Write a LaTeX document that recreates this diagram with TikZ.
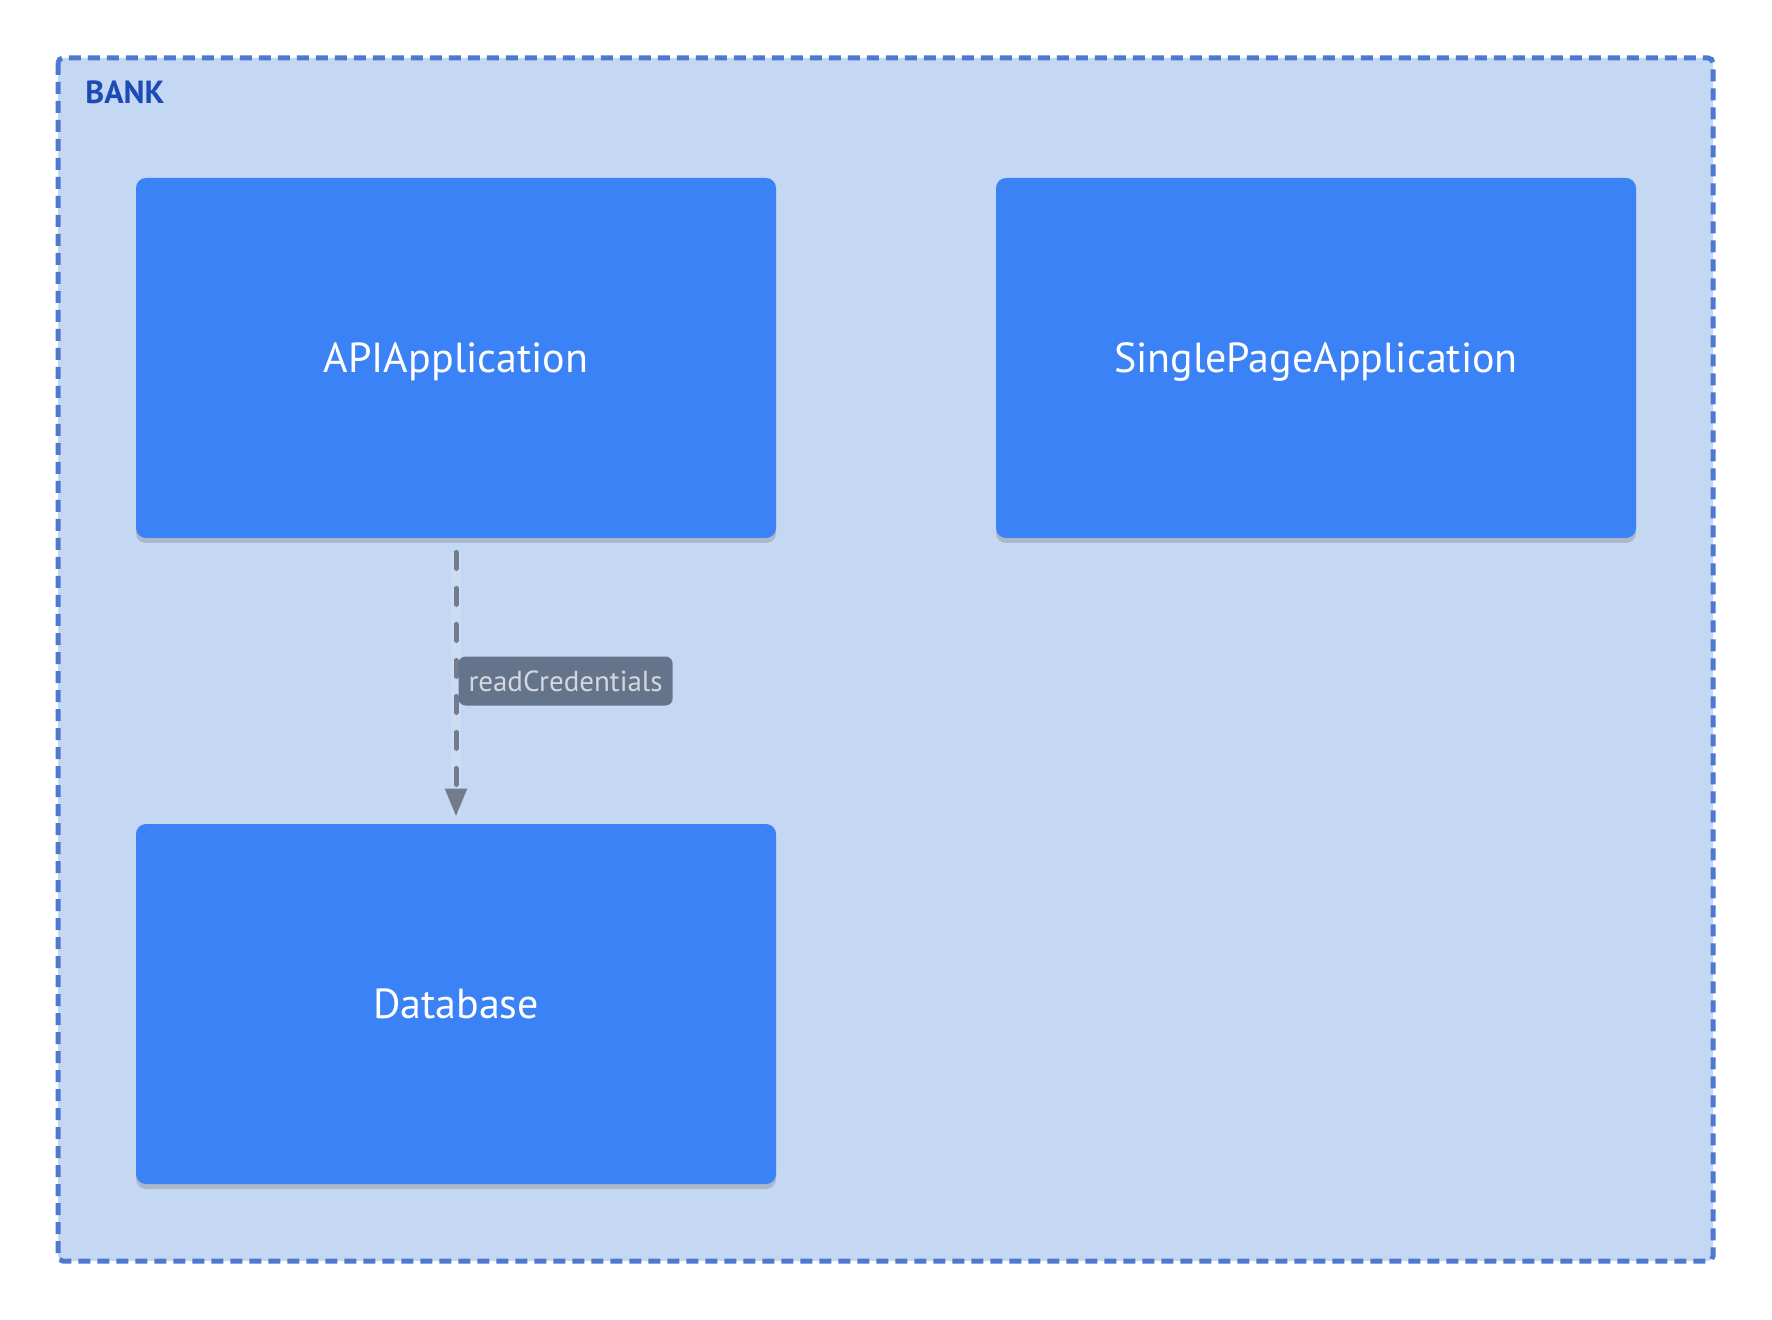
\documentclass[tikz,border=0pt]{standalone}
\usepackage{fontspec}
\setmainfont{PT Sans}
\usetikzlibrary{shadows,arrows.meta}

\definecolor{bankfill}{HTML}{C4D7F3}
\definecolor{bankline}{HTML}{4F78CF}
\definecolor{banktext}{HTML}{1D4BB5}
\definecolor{boxfill}{HTML}{3B82F6}
\definecolor{edgegray}{HTML}{737C8C}
\definecolor{tagfill}{HTML}{64748B}
\definecolor{tagtext}{HTML}{D3D8E0}

\tikzstyle{boundary} = [draw=bankline,fill=bankfill,line width=2.5pt,dash pattern=on 6pt off 3.5pt,rounded corners=2.5pt]
\tikzstyle{title} = [anchor=base west,inner sep=0pt,text=banktext,font=\bfseries\fontsize{16}{19}\selectfont]
\tikzstyle{container} = [rectangle,rounded corners=5pt,fill=boxfill,minimum width=320pt,minimum height=180pt,text depth=0pt,text=white,font=\fontsize{21}{25}\selectfont,drop shadow={shadow xshift=0pt,shadow yshift=-2.5pt,opacity=0.35}]
\tikzstyle{relation} = [draw=edgegray,line width=2.5pt,line cap=round,dash pattern=on 8pt off 10pt,-{Triangle[length=14pt,width=10.5pt]},shorten <=7pt,shorten >=3.5pt,preaction={draw=white,draw opacity=0.15,line width=5pt,solid,-}]
\tikzstyle{tag} = [fill=tagfill,text=tagtext,rounded corners=3.5pt,font=\fontsize{14.5}{17}\selectfont,minimum height=24.5pt,inner xsep=5pt]

\begin{document}
\begin{tikzpicture}[x=0.5pt,y=-0.5pt]
\useasboundingbox (0,0) rectangle (1772,1320);
\draw[boundary] (58,58) rectangle (1713,1261);
\node[title] (bank) at (85,104) {BANK};
\foreach \pos/\name/\txt in {{(456,358)/API/APIApplication}, {(1316,358)/SPA/SinglePageApplication},
                             {(456,1004)/DB/Database}}{
  \node[container] (\name) at \pos {\txt};
}
\path[relation] (API) -- node[tag,anchor=west] (cred) {readCredentials} (DB);
\end{tikzpicture}
\end{document}
